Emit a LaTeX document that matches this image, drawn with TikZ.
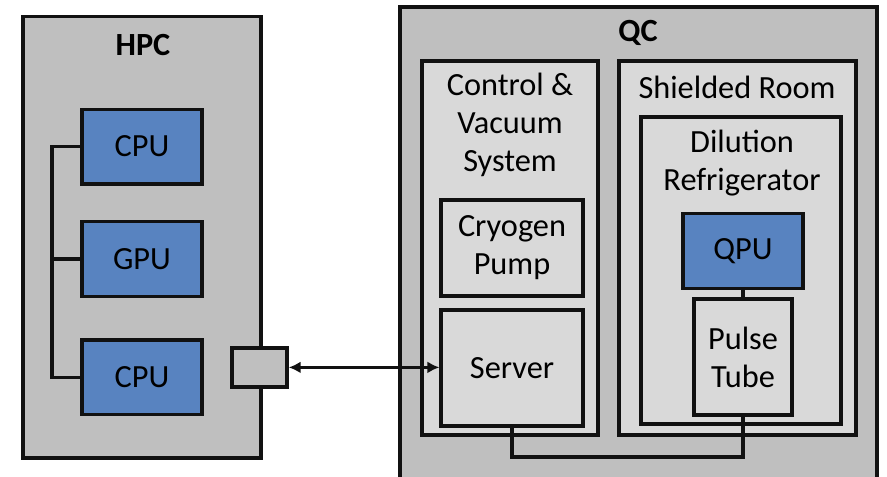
\documentclass[tikz,border=0pt]{standalone}
\usepackage{tikz}
\usetikzlibrary{arrows.meta,positioning,calc}
\usepackage{xcolor}
\usepackage{fontspec}
\setmainfont{Carlito}
\definecolor{outergray}{HTML}{BFBFBF}
\definecolor{innergray}{HTML}{D9D9D9}
\definecolor{unitblue}{HTML}{5883C0}
\definecolor{dark}{HTML}{111111}
\tikzset{
  box/.style={draw=dark, line width=2.3pt, align=center, fill=innergray, inner sep=0pt, font=\fontsize{23}{27}\selectfont},
  outerbox/.style={box, fill=outergray},
  bluebox/.style={box, fill=unitblue, minimum width=3.0cm, minimum height=1.87cm},
  title/.style={align=center, inner sep=0pt, font=\fontsize{23}{27}\selectfont},
  link/.style={draw=dark, line width=2.3pt},
  arrow/.style={{Latex[length=3mm,width=3mm]}-{Latex[length=3mm,width=3mm]}, line width=1.9pt, draw=dark}
}

\begin{document}
\begin{tikzpicture}
  \useasboundingbox (0,0) rectangle (22.175,11.925);
  \clip (0,0) rectangle (22.175,11.925);
  % HPC side
  \node[outerbox, minimum width=5.95cm, minimum height=11.03cm] (hpc) at (3.55,5.99) {};
  \node[title, font=\fontsize{23}{27}\selectfont\bfseries] (hpctitle) at (3.575,10.8) {HPC};
  \node[bluebox] (cpua) at (3.55,8.26) {CPU};
  \node[bluebox] (gpu) at (3.55,5.45) {GPU};
  \node[bluebox] (cpub) at (3.55,2.49) {CPU};
  \coordinate (bus) at (1.3,0);
  \draw[link] (cpua.west) -| (bus |- cpub.west) -- (cpub.west);
  \draw[link] (bus |- gpu.west) -- (gpu.west);
  \node[outerbox, minimum width=1.375cm, minimum height=0.975cm] (port) at (6.49,2.74) {};

  % QC side
  \node[outerbox, minimum width=11.925cm, minimum height=12.25cm] (qc) at (15.96,5.625) {};
  \node[title, font=\fontsize{23}{27}\selectfont\bfseries] (qctitle) at (15.95,11.1) {QC};
  \node[box, minimum width=4.4cm, minimum height=9.35cm] (control) at (12.75,5.725) {};
  \node[title] (controltitle) at (12.75,8.8) {Control \&\\Vacuum\\System};
  \node[box, minimum width=3.55cm, minimum height=2.4cm] (pump) at (12.8,5.725) {Cryogen\\Pump};
  \node[box, minimum width=3.55cm, minimum height=2.9cm] (server) at (12.8,2.725) {Server};
  \node[box, minimum width=5.925cm, minimum height=9.35cm] (room) at (18.44,5.725) {};
  \node[title] (roomtitle) at (18.425,9.75) {Shielded Room};
  \node[box, minimum width=5.0cm, minimum height=7.675cm] (fridge) at (18.525,5.1625) {};
  \node[title] (fridgetitle) at (18.55,7.85) {Dilution\\Refrigerator};
  \node[bluebox] (qpu) at (18.575,5.65) {QPU};
  \node[box, minimum width=2.45cm, minimum height=2.9cm] (pulse) at (18.575,3.0) {Pulse\\Tube};

  % links
  \draw[link] (qpu.south) -- (pulse.north);
  \coordinate (floor) at (0,0.5);
  \draw[link] (server.south) -- (server.south |- floor) -| (pulse.south);
  \draw[arrow] (port.east) -- (server.west |- port.east);
\end{tikzpicture}
\end{document}
